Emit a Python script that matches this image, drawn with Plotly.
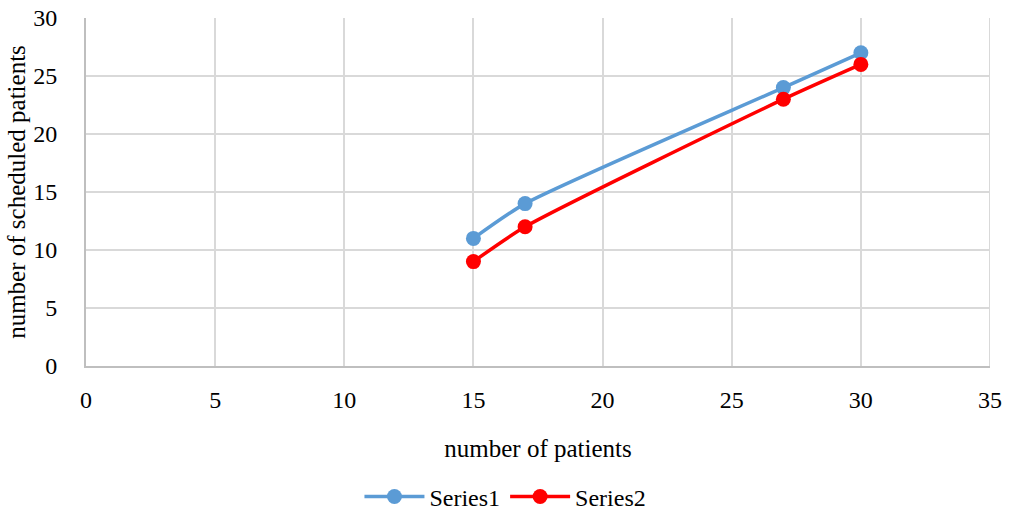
import plotly.graph_objects as go

# Number of patients vs. number of scheduled patients
patients = [15, 17, 27, 30]
series1 = [11, 14, 24, 27]
series2 = [9, 12, 23, 26]
series_names = ["Series1", "Series2"]

FONT = "Liberation Serif"
TICK_FS = 24
TITLE_FS = 25
LEGEND_FS = 24

fig = go.Figure()
fig.add_trace(go.Scatter(
    x=patients, y=series1, name=series_names[0], mode="lines+markers",
    line=dict(color="#5B9BD5", width=3.5, shape="spline", smoothing=0.6),
    marker=dict(color="#5B9BD5", size=15),
))
fig.add_trace(go.Scatter(
    x=patients, y=series2, name=series_names[1], mode="lines+markers",
    line=dict(color="#FF0000", width=3.5, shape="spline", smoothing=0.6),
    marker=dict(color="#FF0000", size=15),
))

fig.update_layout(
    width=1009, height=516,
    margin=dict(l=86, r=19, t=18, b=150, autoexpand=False),
    paper_bgcolor="white", plot_bgcolor="white",
    font=dict(family=FONT, size=TICK_FS, color="black"),
    showlegend=True,
    legend=dict(orientation="h", x=0.464, xanchor="center", y=-0.376, yanchor="middle",
                font=dict(family=FONT, size=LEGEND_FS, color="black"), itemwidth=60,
                tracegroupgap=0),
    xaxis=dict(
        range=[0, 35], dtick=5, tick0=0, automargin=False,
        showgrid=True, gridcolor="#D9D9D9", gridwidth=2,
        showline=True, linecolor="#BFBFBF", linewidth=2,
        zeroline=False, ticks="", ticklabelstandoff=11,
        tickfont=dict(family=FONT, size=TICK_FS, color="black"),
        title=dict(text="number of patients", standoff=28,
                   font=dict(family=FONT, size=TITLE_FS, color="black")),
    ),
    yaxis=dict(
        range=[0, 30], dtick=5, tick0=0, automargin=False,
        showgrid=True, gridcolor="#D9D9D9", gridwidth=2,
        showline=True, linecolor="#BFBFBF", linewidth=2,
        zeroline=False, ticks="", ticklabelstandoff=22,
        tickfont=dict(family=FONT, size=TICK_FS, color="black"),
        title=dict(text="number of scheduled patients", standoff=0,
                   font=dict(family=FONT, size=TITLE_FS, color="black")),
    ),
)
# right border of the plot area drawn as the last vertical grid line
fig.add_shape(type="line", xref="x", yref="paper", x0=35, x1=35, y0=0, y1=1,
              line=dict(color="#D9D9D9", width=2), layer="below")

fig.write_html("out.html")
